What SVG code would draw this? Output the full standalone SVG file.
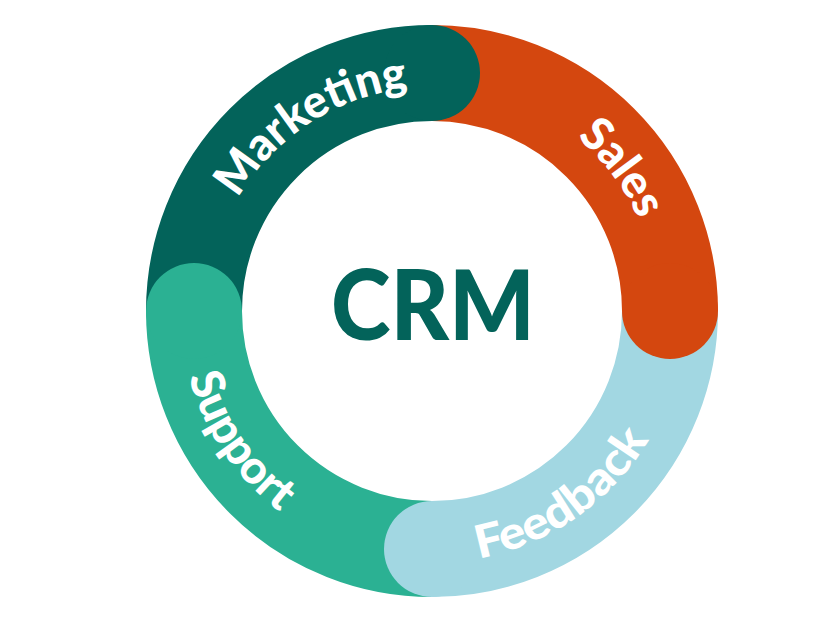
<svg xmlns="http://www.w3.org/2000/svg" width="833" height="621" viewBox="0 0 833 621">
  <style>
    .seg { fill: none; stroke-width: 96; stroke-linecap: butt; }
    .lbl { font-family: Lato, "Liberation Sans", sans-serif; font-weight: 900; font-size: 46px; fill: #ffffff; }
    .crm { font-family: Lato, "Liberation Sans", sans-serif; font-weight: 900; font-size: 97px; fill: #03635A; }
  </style>
  <defs>
    <path id="pMarketing" d="M 208.31 322.72 A 224 224 0 0 1 533.69 111.41"/>
    <path id="pSales" d="M 404.46 86.68 A 226 226 0 0 1 640.03 399.31"/>
    <path id="pFeedback" d="M 325.50 539.39 A 252 252 0 0 0 683.04 289.04"/>
    <path id="pSupport" d="M 205.50 200.53 A 252 252 0 0 0 449.58 562.39"/>
  </defs>
  <rect width="833" height="621" fill="#ffffff"/>
  <g id="connectors"></g>
  <g id="ring">
    <path class="seg" stroke="#03635A" d="M 194 311 A 238 238 0 0 1 432 73"/>
    <path class="seg" stroke="#D4470F" d="M 432 73 A 238 238 0 0 1 670 311"/>
    <path class="seg" stroke="#A2D7E2" d="M 670 311 A 238 238 0 0 1 432 549"/>
    <path class="seg" stroke="#2BB193" d="M 432 549 A 238 238 0 0 1 194 311"/>
  </g>
  <g id="marketing">
    <circle cx="432" cy="73" r="48" fill="#03635A"/>
    <text class="lbl"><textPath href="#pMarketing" startOffset="50%" text-anchor="middle" textLength="210" lengthAdjust="spacingAndGlyphs">Marketing</textPath></text>
  </g>
  <g id="sales">
    <circle cx="670" cy="311" r="48" fill="#D4470F"/>
    <text class="lbl"><textPath href="#pSales" startOffset="50%" text-anchor="middle" textLength="104" lengthAdjust="spacingAndGlyphs">Sales</textPath></text>
  </g>
  <g id="feedback">
    <circle cx="432" cy="549" r="48" fill="#A2D7E2"/>
    <text class="lbl"><textPath href="#pFeedback" startOffset="50%" text-anchor="middle" textLength="214" lengthAdjust="spacingAndGlyphs">Feedback</textPath></text>
  </g>
  <g id="support">
    <circle cx="194" cy="311" r="48" fill="#2BB193"/>
    <text class="lbl"><textPath href="#pSupport" startOffset="50%" text-anchor="middle" textLength="166" lengthAdjust="spacingAndGlyphs">Support</textPath></text>
  </g>
  <g id="crm">
    <text class="crm" x="433" y="340" text-anchor="middle" textLength="204" lengthAdjust="spacingAndGlyphs">CRM</text>
  </g>
</svg>
